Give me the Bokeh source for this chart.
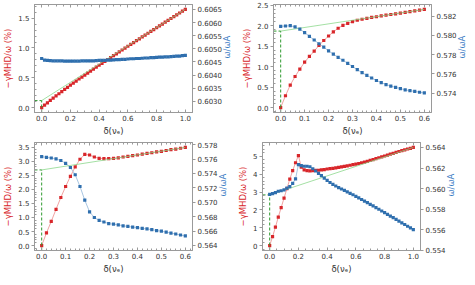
import math
from bokeh.plotting import figure
from bokeh.layouts import column, row
from bokeh.models import LinearAxis, Range1d, FixedTicker, PrintfTickFormatter
from bokeh.embed import file_html
from bokeh.resources import INLINE

# ---------------- data ----------------
x_long = [0.00, 0.02, 0.04, 0.06, 0.08, 0.10, 0.12, 0.14, 0.16, 0.18,
          0.20, 0.22, 0.24, 0.26, 0.28, 0.30, 0.32, 0.34, 0.36, 0.38,
          0.40, 0.42, 0.44, 0.46, 0.48, 0.50, 0.52, 0.54, 0.56, 0.58,
          0.60, 0.62, 0.64, 0.66, 0.68, 0.70, 0.72, 0.74, 0.76, 0.78,
          0.80, 0.82, 0.84, 0.86, 0.88, 0.90, 0.92, 0.94, 0.96, 0.98, 1.00]
x_short = [0.00, 0.02, 0.04, 0.06, 0.08, 0.10, 0.12, 0.14, 0.16, 0.18,
           0.20, 0.22, 0.24, 0.26, 0.28, 0.30, 0.32, 0.34, 0.36, 0.38,
           0.40, 0.42, 0.44, 0.46, 0.48, 0.50, 0.52, 0.54, 0.56, 0.58, 0.60]

# panel A (top left)
gamma_a = [0.000, 0.041, 0.080, 0.119, 0.158, 0.195, 0.232, 0.269, 0.305, 0.340,
           0.375, 0.410, 0.444, 0.479, 0.512, 0.546, 0.579, 0.612, 0.645, 0.678,
           0.710, 0.743, 0.775, 0.807, 0.839, 0.871, 0.902, 0.934, 0.966, 0.997,
           1.029, 1.060, 1.091, 1.122, 1.154, 1.185, 1.216, 1.247, 1.278, 1.309,
           1.340, 1.371, 1.402, 1.433, 1.464, 1.495, 1.525, 1.556, 1.587, 1.618, 1.649]
omega_a = [0.60463, 0.60457, 0.60456, 0.60455, 0.60454, 0.60454, 0.60454, 0.60454, 0.60453, 0.60453,
           0.60453, 0.60453, 0.60453, 0.60453, 0.60454, 0.60454, 0.60454, 0.60454, 0.60454, 0.60455,
           0.60456, 0.60456, 0.60456, 0.60457, 0.60457, 0.60458, 0.60459, 0.60459, 0.60460, 0.60460,
           0.60461, 0.60462, 0.60462, 0.60463, 0.60463, 0.60464, 0.60465, 0.60465, 0.60466, 0.60466,
           0.60467, 0.60468, 0.60468, 0.60469, 0.60469, 0.60470, 0.60471, 0.60472, 0.60472, 0.60474, 0.60475]
fit_a_x = [0.0, 1.0]
fit_a_y = [0.117, 1.649]

# panel B (top right)
gamma_b = [0.000, 0.29, 0.55, 0.76, 0.94, 1.11, 1.25, 1.38, 1.52, 1.64,
           1.75, 1.85, 1.94, 2.01, 2.06, 2.10, 2.135, 2.16, 2.183, 2.203,
           2.221, 2.240, 2.258, 2.276, 2.293, 2.311, 2.329, 2.346, 2.364, 2.382, 2.400]
omega_b = [0.58094, 0.58097, 0.58100, 0.58087, 0.58065, 0.58029, 0.57990, 0.57952, 0.57913, 0.57877,
           0.57839, 0.57806, 0.57771, 0.57742, 0.57710, 0.57677, 0.57645, 0.57613, 0.57584, 0.57558,
           0.57532, 0.57510, 0.57490, 0.57474, 0.57461, 0.57448, 0.57435, 0.57426, 0.57419, 0.57410, 0.57403]
fit_b_x = [0.0, 0.6]
fit_b_y = [1.87, 2.40]

# panel C (bottom left)
gamma_c = [0.00, 0.45, 0.86, 1.29, 1.71, 2.10, 2.46, 2.80, 3.07, 3.24,
           3.22, 3.15, 3.10, 3.09, 3.09, 3.10, 3.12, 3.15, 3.17, 3.20,
           3.22, 3.25, 3.28, 3.30, 3.33, 3.35, 3.38, 3.41, 3.43, 3.46, 3.49]
omega_c = [0.57633, 0.57624, 0.57615, 0.57602, 0.57580, 0.57540, 0.57483, 0.57382, 0.57219, 0.57030,
           0.56867, 0.56788, 0.56748, 0.56726, 0.56704, 0.56695, 0.56687, 0.56673, 0.56664, 0.56655,
           0.56647, 0.56638, 0.56629, 0.56620, 0.56607, 0.56598, 0.56585, 0.56572, 0.56559, 0.56545, 0.56532]
fit_c_x = [0.0, 0.6]
fit_c_y = [2.69, 3.49]

# panel D (bottom right)
gamma_d = [0.00, 0.50, 1.03, 1.60, 2.13, 2.66, 3.19, 3.72, 4.20, 4.64,
           5.04, 4.40, 4.24, 4.20, 4.19, 4.20, 4.21, 4.22, 4.24, 4.26,
           4.29, 4.31, 4.33, 4.35, 4.38, 4.41, 4.44, 4.47, 4.50, 4.53,
           4.56, 4.60, 4.64, 4.68, 4.72, 4.77, 4.82, 4.87, 4.92, 4.97,
           5.02, 5.07, 5.12, 5.17, 5.22, 5.27, 5.32, 5.36, 5.41, 5.45, 5.50]
omega_d = [0.55943, 0.55950, 0.55961, 0.55974, 0.55979, 0.55988, 0.56004, 0.56019, 0.56050, 0.56095,
           0.56233, 0.56223, 0.56217, 0.56217, 0.56212, 0.56193, 0.56171, 0.56148, 0.56126, 0.56102,
           0.56080, 0.56059, 0.56040, 0.56025, 0.56010, 0.55996, 0.55982, 0.55968, 0.55954, 0.55940,
           0.55925, 0.55910, 0.55894, 0.55879, 0.55863, 0.55847, 0.55832, 0.55815, 0.55799, 0.55782,
           0.55766, 0.55750, 0.55733, 0.55717, 0.55700, 0.55684, 0.55667, 0.55651, 0.55634, 0.55618, 0.55601]
fit_d_x = [0.0, 1.0]
fit_d_y = [2.84, 5.50]

# tick values
xt_long = [0.0, 0.2, 0.4, 0.6, 0.8, 1.0]
xt_long_minor = [-0.05, 0.05, 0.1, 0.15, 0.25, 0.3, 0.35, 0.45, 0.5, 0.55,
                 0.65, 0.7, 0.75, 0.85, 0.9, 0.95, 1.05]
xt_short = [0.0, 0.1, 0.2, 0.3, 0.4, 0.5, 0.6]
xt_short_minor = [-0.02, 0.02, 0.04, 0.06, 0.08, 0.12, 0.14, 0.16, 0.18, 0.22, 0.24, 0.26, 0.28,
                  0.32, 0.34, 0.36, 0.38, 0.42, 0.44, 0.46, 0.48, 0.52, 0.54, 0.56, 0.58, 0.62]

yl_a = [0.0, 0.5, 1.0, 1.5]
yl_a_minor = [0.1, 0.2, 0.3, 0.4, 0.6, 0.7, 0.8, 0.9, 1.1, 1.2, 1.3, 1.4, 1.6, 1.7]
yr_a = [0.6030, 0.6035, 0.6040, 0.6045, 0.6050, 0.6055, 0.6060, 0.6065]
yl_b = [0.0, 0.5, 1.0, 1.5, 2.0, 2.5]
yl_b_minor = [-0.1, 0.1, 0.2, 0.3, 0.4, 0.6, 0.7, 0.8, 0.9, 1.1, 1.2, 1.3, 1.4,
              1.6, 1.7, 1.8, 1.9, 2.1, 2.2, 2.3, 2.4]
yr_b = [0.574, 0.576, 0.578, 0.580, 0.582]
yl_c = [0.0, 0.5, 1.0, 1.5, 2.0, 2.5, 3.0, 3.5]
yl_c_minor = [-0.1, 0.1, 0.2, 0.3, 0.4, 0.6, 0.7, 0.8, 0.9, 1.1, 1.2, 1.3, 1.4,
              1.6, 1.7, 1.8, 1.9, 2.1, 2.2, 2.3, 2.4, 2.6, 2.7, 2.8, 2.9,
              3.1, 3.2, 3.3, 3.4, 3.6]
yr_c = [0.564, 0.566, 0.568, 0.570, 0.572, 0.574, 0.576, 0.578]
yl_d = [0, 1, 2, 3, 4, 5]
yl_d_minor = [-0.2, 0.2, 0.4, 0.6, 0.8, 1.2, 1.4, 1.6, 1.8, 2.2, 2.4, 2.6, 2.8,
              3.2, 3.4, 3.6, 3.8, 4.2, 4.4, 4.6, 4.8, 5.2, 5.4, 5.6]
yr_d = [0.554, 0.556, 0.558, 0.560, 0.562, 0.564]

# ---------------- style ----------------
RED = "#d8262a"
RED_LINE = "#f2a3a3"
BLUE = "#2f6fae"
BLUE_LINE = "#a9c6e2"
GREEN_FIT = "#86d586"
GREEN_DASH = "#2e9a2e"
AX = "#9a9a9a"
TXT = "#333333"
FONT = "DejaVu Sans"
FW, FH = 158, 108


def style_axis(ax, tin, tout, minor_in):
    ax.axis_line_color = AX
    ax.major_tick_line_color = AX
    ax.minor_tick_line_color = AX
    ax.major_tick_in = tin
    ax.major_tick_out = tout
    ax.minor_tick_in = minor_in
    ax.minor_tick_out = 0
    ax.major_label_text_font = FONT
    ax.major_label_text_font_size = "7px"
    ax.major_label_text_color = TXT
    ax.major_label_standoff = 2
    ax.axis_label_standoff = 2
    ax.axis_label_text_font = FONT
    ax.axis_label_text_font_size = "8.5px"
    ax.axis_label_text_font_style = "normal"


def panel(x, gamma, omega, fx, fy, xr, ylr, yrr, xt, xtm, ylt, ylm, yrt, lfmt, rfmt, rb):
    p = figure(frame_width=FW, frame_height=FH, x_range=Range1d(*xr), y_range=Range1d(*ylr),
               output_backend="svg", toolbar_location=None,
               min_border_left=25, min_border_right=rb, min_border_top=4, min_border_bottom=20)
    p.extra_y_ranges = {"w": Range1d(*yrr)}
    p.grid.visible = False
    p.outline_line_color = AX
    p.background_fill_color = "white"
    p.border_fill_color = "white"

    xa = p.xaxis[0]
    xa.ticker = FixedTicker(ticks=xt, minor_ticks=xtm)
    xa.formatter = PrintfTickFormatter(format="%.1f")
    xa.axis_label = "δ(νₑ)"
    style_axis(xa, 3, 0, 2)
    xa.axis_label_text_color = TXT

    ya = p.yaxis[0]
    ya.ticker = FixedTicker(ticks=ylt, minor_ticks=ylm)
    ya.formatter = PrintfTickFormatter(format=lfmt)
    ya.axis_label = "−γMHD/ω (%)"
    style_axis(ya, 0, 3, 2)
    ya.axis_label_text_color = RED

    ra = LinearAxis(y_range_name="w", ticker=FixedTicker(ticks=yrt),
                    formatter=PrintfTickFormatter(format=rfmt), axis_label="ω/ωA")
    style_axis(ra, 0, 3, 0)
    ra.minor_tick_line_color = None
    ra.axis_label_text_color = "#3b7cc4"
    try:
        ra.axis_label_orientation = math.pi / 2
    except Exception:
        pass
    p.add_layout(ra, "right")

    ta = LinearAxis(ticker=FixedTicker(ticks=xt, minor_ticks=xtm))
    style_axis(ta, 3, 0, 2)
    ta.major_label_text_font_size = "1px"
    ta.major_label_text_color = None
    ta.major_label_text_alpha = 0
    ta.major_label_standoff = 0
    p.add_layout(ta, "above")

    p.line(x, gamma, line_color=RED_LINE, line_width=1)
    p.line(x, omega, line_color=BLUE_LINE, line_width=1, y_range_name="w")
    p.scatter(x, gamma, marker="square", size=3.2, fill_color=RED, line_color=None)
    p.line(fx, fy, line_color=GREEN_FIT, line_width=1, line_alpha=0.75)
    p.segment(x0=[xr[0]], y0=[fy[0]], x1=[fx[0]], y1=[fy[0]],
              line_color=GREEN_DASH, line_width=1, line_dash="3 2")
    p.segment(x0=[fx[0]], y0=[ylr[0]], x1=[fx[0]], y1=[fy[0]],
              line_color=GREEN_DASH, line_width=1, line_dash="3 2")
    p.scatter(x, omega, marker="square", size=3.2, fill_color=BLUE, line_color=None,
              y_range_name="w")
    return p


p1 = panel(x_long, gamma_a, omega_a, fit_a_x, fit_a_y, (-0.05, 1.05), (-0.083, 1.73),
           (0.60257, 0.60669), xt_long, xt_long_minor, yl_a, yl_a_minor,
           yr_a, "%.1f", "%.4f", 42)
p2 = panel(x_short, gamma_b, omega_b, fit_b_x, fit_b_y, (-0.03, 0.63), (-0.12, 2.52),
           (0.5720, 0.5832), xt_short, xt_short_minor, yl_b, yl_b_minor,
           yr_b, "%.1f", "%.3f", 34)
p3 = panel(x_short, gamma_c, omega_c, fit_c_x, fit_c_y, (-0.03, 0.63), (-0.175, 3.665),
           (0.5633, 0.5783), xt_short, xt_short_minor, yl_c, yl_c_minor,
           yr_c, "%.1f", "%.3f", 42)
p4 = panel(x_long, gamma_d, omega_d, fit_d_x, fit_d_y, (-0.05, 1.05), (-0.275, 5.775),
           (0.55398, 0.56448), xt_long, xt_long_minor, yl_d, yl_d_minor,
           yr_d, "%d", "%.3f", 34)

layout = column(row(p1, p2), row(p3, p4))
open("out.html", "w").write(file_html(layout, INLINE))
